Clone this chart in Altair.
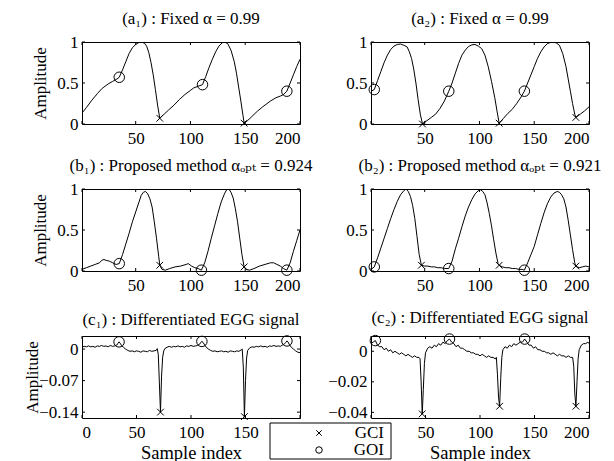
import altair as alt
import pandas as pd

FONT = "Liberation Serif, DejaVu Serif, Times New Roman, serif"
CROSS = "M-1,-1L1,1M-1,1L1,-1"
W, H = 218, 82
FS = 17

# ---------------- data ----------------
a1_x = [1, 5, 10, 15, 19, 21, 25, 29, 33, 35, 38, 41, 44, 47, 50, 53, 55, 58, 60, 62, 64, 66, 68, 70, 72,
        76, 80, 85, 90, 95, 100, 103, 107, 111, 114, 117, 120, 123, 126, 129, 131, 134, 137, 140, 142, 144,
        146, 148, 149, 152, 156, 161, 166, 173, 178, 182, 185, 188, 191, 194, 197, 200]
a1_y = [0.134, 0.20, 0.29, 0.37, 0.43, 0.45, 0.49, 0.52, 0.55, 0.57, 0.66, 0.76, 0.86, 0.93, 0.97, 0.995,
        1.0, 0.985, 0.95, 0.87, 0.75, 0.60, 0.42, 0.23, 0.07,
        0.12, 0.17, 0.23, 0.30, 0.36, 0.41, 0.44, 0.46, 0.48, 0.58, 0.69, 0.79, 0.88, 0.95, 0.99, 1.0, 0.98,
        0.90, 0.76, 0.62, 0.45, 0.28, 0.10, 0.01, 0.04, 0.09, 0.155, 0.21, 0.28, 0.32, 0.34, 0.36, 0.40,
        0.50, 0.60, 0.70, 0.79]
a1_gci_x = [72, 149]
a1_gci_y = [0.07, 0.01]
a1_goi_x = [35, 111, 188]
a1_goi_y = [0.57, 0.48, 0.40]

a2_x = [1, 4, 7, 10, 13, 16, 19, 22, 25, 28, 31, 34, 36, 38, 40, 42, 44, 46, 48, 52, 56, 60, 64, 68, 72,
        75, 78, 81, 84, 87, 90, 93, 96, 99, 102, 105, 108, 111, 114, 116, 118, 122, 126, 130, 134, 138,
        141, 144, 147, 150, 153, 156, 159, 162, 165, 167, 170, 173, 176, 179, 181, 183, 185, 187, 188,
        192, 196, 200]
a2_y = [0.40, 0.42, 0.53, 0.64, 0.75, 0.84, 0.91, 0.95, 0.97, 0.975, 0.96, 0.94, 0.88, 0.80, 0.67, 0.50,
        0.30, 0.12, 0.0, 0.04, 0.08, 0.12, 0.19, 0.28, 0.40,
        0.50, 0.62, 0.74, 0.84, 0.90, 0.945, 0.965, 0.97, 0.95, 0.92, 0.84, 0.70, 0.52, 0.32, 0.16, 0.01,
        0.07, 0.13, 0.18, 0.25, 0.33, 0.40, 0.50, 0.60, 0.70, 0.80, 0.88, 0.94, 0.98, 0.995, 1.0, 0.99,
        0.96, 0.86, 0.70, 0.55, 0.40, 0.25, 0.12, 0.08, 0.12, 0.16, 0.21]
a2_gci_x = [48, 118, 188]
a2_gci_y = [0.0, 0.01, 0.08]
a2_goi_x = [4, 72, 141]
a2_goi_y = [0.42, 0.40, 0.40]

b1_x = [1, 5, 9, 13, 17, 19, 21, 23, 26, 29, 32, 35, 38, 41, 44, 47, 50, 53, 55, 57, 59, 61, 63, 65, 67,
        69, 71, 72, 74, 77, 81, 86, 91, 96, 98, 101, 104, 107, 110, 113, 116, 119, 122, 125, 128, 131,
        133, 135, 137, 139, 141, 143, 145, 147, 149, 151, 154, 158, 163, 168, 173, 176, 179, 182, 185,
        188, 191, 194, 197, 200]
b1_y = [0.02, 0.04, 0.06, 0.08, 0.10, 0.13, 0.14, 0.13, 0.12, 0.10, 0.08, 0.09, 0.20, 0.33, 0.46, 0.60,
        0.72, 0.84, 0.92, 0.96, 0.97, 0.94, 0.88, 0.78, 0.60, 0.40, 0.18, 0.07, 0.02, 0.01, 0.03, 0.05,
        0.06, 0.08, 0.09, 0.06, 0.04, 0.03, 0.01, 0.10, 0.24, 0.40, 0.55, 0.70, 0.84, 0.94, 0.99, 1.0,
        0.96, 0.89, 0.76, 0.60, 0.40, 0.20, 0.05, 0.02, 0.01, 0.03, 0.06, 0.08, 0.10, 0.10, 0.08, 0.06,
        0.03, 0.01, 0.10, 0.24, 0.37, 0.50]
b1_gci_x = [72, 149]
b1_gci_y = [0.07, 0.05]
b1_goi_x = [35, 110, 188]
b1_goi_y = [0.09, 0.01, 0.01]

b2_x = [1, 4, 7, 10, 13, 16, 19, 22, 25, 28, 31, 33, 35, 37, 39, 41, 43, 45, 47, 50, 53, 56, 59, 62, 65,
        68, 72, 75, 78, 81, 84, 87, 90, 93, 96, 99, 101, 103, 105, 107, 109, 111, 113, 115, 117, 118,
        121, 124, 127, 130, 133, 136, 139, 141, 144, 147, 150, 153, 156, 159, 162, 165, 168, 171, 173,
        175, 177, 179, 181, 183, 185, 187, 188, 191, 194, 197, 200]
b2_y = [0.02, 0.05, 0.16, 0.28, 0.40, 0.52, 0.64, 0.75, 0.85, 0.93, 0.98, 1.0, 0.97, 0.91, 0.80, 0.64,
        0.42, 0.20, 0.07, 0.06, 0.06, 0.05, 0.05, 0.04, 0.04, 0.03, 0.03, 0.12, 0.27, 0.40, 0.54, 0.67,
        0.78, 0.87, 0.94, 0.98, 0.99, 0.97, 0.93, 0.83, 0.70, 0.55, 0.38, 0.22, 0.09, 0.07, 0.05, 0.04,
        0.04, 0.03, 0.03, 0.02, 0.02, 0.01, 0.10, 0.20, 0.30, 0.44, 0.58, 0.71, 0.82, 0.90, 0.95, 0.97,
        0.96, 0.93, 0.88, 0.78, 0.62, 0.44, 0.26, 0.10, 0.06, 0.04, 0.05, 0.06, 0.05]
b2_gci_x = [47, 118, 188]
b2_gci_y = [0.07, 0.07, 0.06]
b2_goi_x = [4, 72, 141]
b2_goi_y = [0.05, 0.03, 0.01]

c1_x = [0, 2, 4, 6, 8, 10, 12, 14, 16, 18, 20, 22, 24, 26, 28, 30, 32, 33, 34, 35, 36, 38, 40, 42, 44,
        46, 48, 50, 52, 54, 56, 58, 60, 62, 64, 66, 68, 69, 70, 71, 72, 73, 74, 75, 76, 78, 80, 82, 84,
        86, 88, 90, 92, 94, 96, 98, 100, 102, 104, 106, 108, 109, 110, 111, 112, 114, 116, 118, 120, 122,
        124, 126, 128, 130, 132, 134, 136, 138, 140, 142, 144, 146, 147, 148, 149, 150, 151, 152, 154,
        156, 158, 160, 162, 164, 166, 168, 170, 172, 174, 176, 178, 180, 182, 184, 186, 187, 188, 189,
        190, 192, 194, 196, 198, 200]
c1_y = [0.004, 0.006, 0.005, 0.007, 0.005, 0.006, 0.004, 0.007, 0.006, 0.008, 0.006, 0.007, 0.005,
        0.008, 0.006, 0.007, 0.009, 0.013, 0.016, 0.013, 0.009, 0.004, 0.000, -0.003, -0.005, -0.004,
        -0.006, -0.004, -0.005, -0.007, -0.004, -0.005, -0.006, -0.003, -0.005, -0.004, -0.003, 0.001,
        -0.012, -0.075, -0.140, -0.060, -0.018, -0.004, 0.001, 0.004, 0.006, 0.004, 0.006, 0.005, 0.007,
        0.005, 0.006, 0.004, 0.007, 0.006, 0.008, 0.006, 0.007, 0.008, 0.011, 0.015, 0.017, 0.015, 0.011,
        0.004, 0.000, -0.003, -0.005, -0.004, -0.006, -0.005, -0.004, -0.006, -0.005, -0.007, -0.004,
        -0.005, -0.006, -0.004, -0.005, -0.002, 0.000, -0.040, -0.150, -0.070, -0.020, -0.003, 0.003,
        0.005, 0.004, 0.006, 0.005, 0.007, 0.005, 0.006, 0.004, 0.007, 0.006, 0.008, 0.006, 0.007, 0.006,
        0.009, 0.012, 0.015, 0.018, 0.016, 0.011, 0.004, 0.000, -0.004, -0.007, -0.008]
c1_gci_x = [72, 149]
c1_gci_y = [-0.140, -0.150]
c1_goi_x = [34, 110, 188]
c1_goi_y = [0.016, 0.017, 0.018]

c2_x = [0, 2, 4, 6, 8, 10, 12, 14, 16, 18, 20, 22, 24, 26, 28, 30, 32, 34, 36, 38, 40, 42, 44, 45, 46,
        47, 48, 49, 50, 52, 54, 56, 58, 60, 62, 64, 66, 68, 70, 72, 74, 76, 78, 80, 82, 84, 86, 88, 90,
        92, 94, 96, 98, 100, 102, 104, 106, 108, 110, 112, 114, 115, 116, 117, 118, 119, 120, 121, 123,
        125, 127, 129, 131, 133, 135, 137, 139, 141, 143, 145, 147, 149, 151, 153, 155, 157, 159, 161,
        163, 165, 167, 169, 171, 173, 175, 177, 179, 181, 183, 185, 186, 187, 188, 189, 190, 191, 193,
        195, 197, 199, 200]
c2_y = [0.005, 0.006, 0.007, 0.004, 0.003, 0.003, 0.001, 0.002, 0.000, 0.001, -0.001, 0.000, -0.001,
        -0.002, -0.001, -0.002, -0.003, -0.002, -0.003, -0.004, -0.003, -0.004, -0.004, -0.005, -0.020,
        -0.041, -0.025, -0.008, -0.001, 0.002, 0.003, 0.002, 0.004, 0.003, 0.005, 0.004, 0.006, 0.005,
        0.007, 0.008, 0.006, 0.005, 0.003, 0.004, 0.002, 0.002, 0.001, 0.000, 0.000, -0.001, -0.001,
        -0.002, -0.002, -0.003, -0.002, -0.003, -0.004, -0.003, -0.004, -0.004, -0.005, -0.004, -0.015,
        -0.030, -0.036, -0.018, -0.004, 0.001, 0.003, 0.002, 0.004, 0.003, 0.005, 0.004, 0.005, 0.006,
        0.006, 0.008, 0.006, 0.004, 0.004, 0.002, 0.003, 0.001, 0.001, 0.000, 0.000, -0.001, -0.001,
        -0.002, -0.001, -0.002, -0.003, -0.002, -0.003, -0.003, -0.004, -0.003, -0.004, -0.004, -0.010,
        -0.028, -0.036, -0.020, -0.005, 0.001, 0.004, 0.005, 0.005, 0.006, 0.005]
c2_gci_x = [47, 118, 188]
c2_gci_y = [-0.041, -0.036, -0.036]
c2_goi_x = [4, 72, 141]
c2_goi_y = [0.007, 0.008, 0.008]

titles = {
    "a1": "(a\u2081) : Fixed \u03b1 = 0.99",
    "a2": "(a\u2082) : Fixed \u03b1 = 0.99",
    "b1": "(b\u2081) : Proposed method \u03b1\u2092\u209a\u209c = 0.924",
    "b2": "(b\u2082) : Proposed method \u03b1\u2092\u209a\u209c = 0.921",
    "c1": "(c\u2081) : Differentiated EGG signal",
    "c2": "(c\u2082) : Differentiated EGG signal",
}
event_types = ["GCI", "GOI"]
ab_xticks = [1, 50, 100, 150, 200]
ab_xlabels = [50, 100, 150, 200]
c_xticks = [0, 50, 100, 150, 200]
c1_xlabels = [0, 50, 100, 150]
c2_xlabels = [50, 100, 150, 200]
ab_yticks = [0, 0.5, 1]
c1_yticks = [-0.14, -0.07, 0]
c2_yticks = [-0.04, -0.02, 0]

AXIS_STYLE = dict(labelFont=FONT, labelFontSize=FS, labelColor="black", titleFont=FONT, titleFontSize=FS,
                  titleFontWeight="normal", titleColor="black", ticks=False, domain=False, grid=False,
                  labelOverlap=False)


def legend_layers():
    box = alt.Chart(pd.DataFrame({"k": [0]})).mark_rect(
        fill="white", stroke="black", strokeWidth=1).encode(
        x=alt.value(188), x2=alt.value(309), y=alt.value(87), y2=alt.value(123))
    out = [box]
    shapes = [CROSS, "circle"]
    sizes = [30, 42]
    rows = [97, 114]
    for t, shp, sz, yy in zip(event_types, shapes, sizes, rows):
        d = pd.DataFrame({"type": [t]})
        out.append(alt.Chart(d).mark_point(shape=shp, size=sz, filled=False, color="black",
                                            strokeWidth=1, opacity=1).encode(
            x=alt.value(237), y=alt.value(yy)))
        out.append(alt.Chart(d).mark_text(align="right", baseline="middle", font=FONT, fontSize=FS,
                                          color="black").encode(
            x=alt.value(302), y=alt.value(yy), text="type:N"))
    return out


def panel(xs, ys, gx, gy, ox, oy, xdom, xticks, xlabels, ydom, yticks, title, ytitle, xtitle, legend,
          ytitle_x=-33):
    xaxis = dict(AXIS_STYLE, values=xlabels, format="d", title=xtitle, labelPadding=6, titlePadding=3,
                 titleFontSize=18.5)
    yaxis = dict(AXIS_STYLE, values=yticks, format="~g", title=ytitle, labelPadding=4)
    if ytitle:
        yaxis.update(titleX=ytitle_x)
    x_enc = alt.X("x:Q", scale=alt.Scale(domain=xdom, nice=False, zero=False), axis=alt.Axis(**xaxis))
    y_enc = alt.Y("y:Q", scale=alt.Scale(domain=ydom, nice=False, zero=False), axis=alt.Axis(**yaxis))

    line = alt.Chart(pd.DataFrame({"x": xs, "y": ys})).mark_line(
        color="black", strokeWidth=1, clip=True).encode(x=x_enc, y=y_enc)

    ev = pd.DataFrame({"x": gx + ox, "y": gy + oy,
                       "type": ["GCI"] * len(gx) + ["GOI"] * len(ox)})
    pts = alt.Chart(ev).mark_point(filled=False, color="black", strokeWidth=1, opacity=1).encode(
        x=x_enc, y=y_enc,
        shape=alt.Shape("type:N", scale=alt.Scale(domain=event_types, range=[CROSS, "circle"]), legend=None),
        size=alt.Size("type:N", scale=alt.Scale(domain=event_types, range=[45, 110]), legend=None),
    )

    xt = pd.DataFrame({"x": xticks})
    yt = pd.DataFrame({"y": yticks})
    tb = alt.Chart(xt).mark_rule(color="black", strokeWidth=1).encode(x=x_enc, y=alt.value(H), y2=alt.value(H - 3))
    tt = alt.Chart(xt).mark_rule(color="black", strokeWidth=1).encode(x=x_enc, y=alt.value(0), y2=alt.value(3))
    tl = alt.Chart(yt).mark_rule(color="black", strokeWidth=1).encode(y=y_enc, x=alt.value(0), x2=alt.value(3))
    tr = alt.Chart(yt).mark_rule(color="black", strokeWidth=1).encode(y=y_enc, x=alt.value(W), x2=alt.value(W - 3))

    layers = [tb, tt, tl, tr, line, pts]
    if legend:
        layers += legend_layers()
    return alt.layer(*layers).properties(
        width=W, height=H,
        title=alt.TitleParams(title, offset=5, font=FONT, fontSize=FS, fontWeight="normal",
                              color="black", anchor="middle"))


xd_ab = [1, 200]
xd_c = [0, 200]
charts = [
    panel(a1_x, a1_y, a1_gci_x, a1_gci_y, a1_goi_x, a1_goi_y, xd_ab, ab_xticks, ab_xlabels, [0, 1],
          ab_yticks, titles["a1"], "Amplitude", None, False),
    panel(a2_x, a2_y, a2_gci_x, a2_gci_y, a2_goi_x, a2_goi_y, xd_ab, ab_xticks, ab_xlabels, [0, 1],
          ab_yticks, titles["a2"], None, None, False),
    panel(b1_x, b1_y, b1_gci_x, b1_gci_y, b1_goi_x, b1_goi_y, xd_ab, ab_xticks, ab_xlabels, [0, 1],
          ab_yticks, titles["b1"], "Amplitude", None, False),
    panel(b2_x, b2_y, b2_gci_x, b2_gci_y, b2_goi_x, b2_goi_y, xd_ab, ab_xticks, ab_xlabels, [0, 1],
          ab_yticks, titles["b2"], None, None, False),
    panel(c1_x, c1_y, c1_gci_x, c1_gci_y, c1_goi_x, c1_goi_y, xd_c, c_xticks, c1_xlabels,
          [-0.153, 0.029], c1_yticks, titles["c1"], "Amplitude", "Sample index", True, ytitle_x=-41),
    panel(c2_x, c2_y, c2_gci_x, c2_gci_y, c2_goi_x, c2_goi_y, xd_c, c_xticks, c2_xlabels,
          [-0.0437, 0.010], c2_yticks, titles["c2"], None, "Sample index", False),
]

chart = alt.concat(*charts, columns=2, spacing={"row": 65, "column": 71}, bounds="flush").configure(
    background="white", padding={"left": 14, "top": 1, "right": 0, "bottom": 0}, font=FONT
).configure_view(stroke="black", strokeWidth=1)

chart.save("out.html", embed_options={"renderer": "svg", "actions": False})
